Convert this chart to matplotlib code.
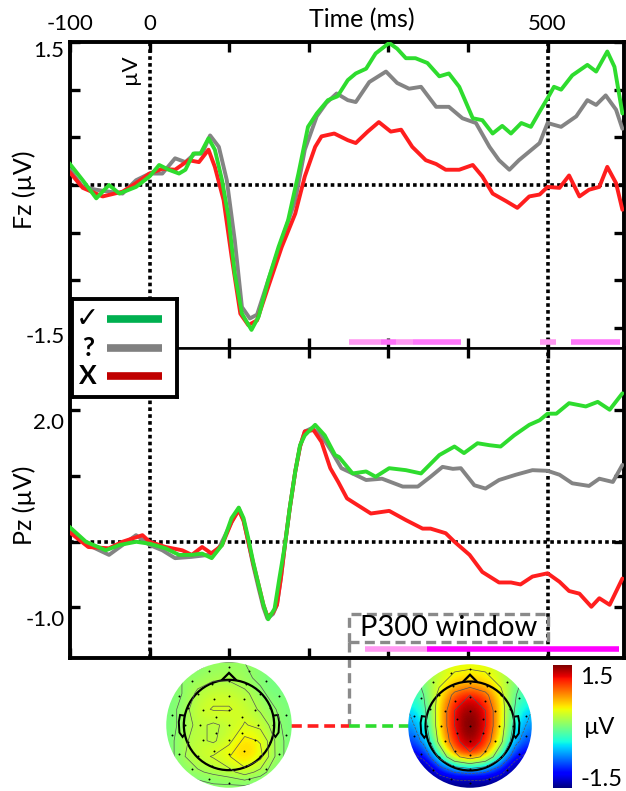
import numpy as np
import matplotlib
matplotlib.use('Agg')
import matplotlib.pyplot as plt
from matplotlib.patches import Circle, Rectangle, Polygon
from matplotlib.transforms import ScaledTranslation, blended_transform_factory

plt.rcParams['font.family'] = ['Lato', 'DejaVu Sans']

# ---- Fz waveforms (ms, µV) ----
fz_t_yes = [-101, -84, -67, -51, -38, -17, 0, 12, 24, 37, 45, 55, 64, 74, 82, 91, 99, 107, 116, 128,
            137, 149, 162, 174, 187, 199, 210, 224, 236, 249, 259, 272, 284, 301, 311, 322, 334, 349,
            364, 376, 389, 406, 418, 431, 443, 454, 467, 479, 490, 500, 508, 517, 531, 550, 561, 575,
            584, 594]
fz_v_yes = [0.23, 0.05, -0.14, 0.0, -0.09, -0.02, 0.09, 0.21, 0.16, 0.12, 0.16, 0.33, 0.33, 0.49, 0.37,
            0.05, -0.33, -0.93, -1.35, -1.52, -1.38, -1.0, -0.65, -0.37, 0.12, 0.61, 0.75, 0.89, 0.93,
            1.10, 1.17, 1.22, 1.38, 1.49, 1.43, 1.33, 1.33, 1.28, 1.14, 1.17, 1.03, 0.70, 0.68, 0.54,
            0.62, 0.54, 0.65, 0.61, 0.77, 0.91, 1.03, 1.0, 1.15, 1.26, 1.19, 1.40, 1.24, 0.75]

fz_t_maybe = [-101, -84, -67, -51, -34, -17, 0, 16, 32, 45, 57, 66, 76, 87, 97, 107, 116, 126, 135, 149,
              166, 183, 195, 210, 222, 235, 249, 259, 276, 297, 311, 326, 341, 360, 376, 393, 410, 427,
              439, 452, 464, 477, 490, 500, 517, 536, 550, 561, 573, 586, 594]
fz_v_maybe = [0.17, -0.02, -0.05, -0.07, -0.09, 0.05, 0.12, 0.12, 0.28, 0.24, 0.33, 0.33, 0.52, 0.40,
              0.05, -0.58, -1.28, -1.40, -1.36, -1.0, -0.58, -0.16, 0.37, 0.72, 0.86, 0.96, 0.89, 0.87,
              1.08, 1.19, 1.07, 1.01, 1.03, 0.82, 0.82, 0.70, 0.65, 0.40, 0.26, 0.16, 0.26, 0.35, 0.44,
              0.65, 0.61, 0.72, 0.89, 0.84, 0.94, 0.79, 0.59]

fz_t_no = [-101, -84, -59, -34, -17, 0, 16, 32, 49, 62, 74, 82, 93, 103, 114, 124, 135, 149, 166, 183,
           195, 208, 216, 232, 249, 259, 274, 288, 303, 316, 330, 347, 360, 372, 389, 406, 418, 431, 448,
           462, 477, 490, 500, 515, 527, 540, 552, 565, 575, 586, 594]
fz_v_no = [0.14, -0.03, -0.12, -0.07, 0.02, 0.12, 0.17, 0.16, 0.26, 0.24, 0.37, 0.19, -0.16, -0.75, -1.35,
           -1.47, -1.42, -1.07, -0.65, -0.30, 0.09, 0.40, 0.51, 0.54, 0.47, 0.44, 0.56, 0.66, 0.56, 0.58,
           0.40, 0.26, 0.22, 0.16, 0.16, 0.21, 0.09, -0.09, -0.17, -0.24, -0.12, -0.10, -0.02, -0.03,
           0.10, -0.12, -0.05, -0.02, 0.19, 0.02, -0.26]

# ---- Pz waveforms (ms, µV) ----
pz_t_yes = [-101, -80, -55, -38, -17, 0, 20, 37, 53, 66, 78, 91, 103, 112, 118, 124, 130, 137, 143, 149,
            157, 163, 170, 176, 183, 189, 195, 208, 220, 233, 238, 255, 272, 284, 301, 322, 341, 364, 383,
            395, 412, 427, 441, 458, 477, 490, 500, 511, 527, 548, 563, 578, 594]
pz_v_yes = [0.23, 0.0, -0.13, -0.05, 0.0, -0.03, -0.10, -0.20, -0.20, -0.18, -0.25, -0.05, 0.36, 0.52,
            0.36, 0.05, -0.30, -0.66, -0.96, -1.18, -1.02, -0.56, -0.05, 0.51, 1.07, 1.47, 1.62, 1.78,
            1.62, 1.32, 1.29, 1.04, 1.07, 0.99, 1.12, 1.09, 1.04, 1.32, 1.45, 1.35, 1.50, 1.47, 1.45,
            1.62, 1.78, 1.85, 1.95, 1.95, 2.11, 2.06, 2.13, 2.01, 2.26]

pz_t_maybe = [-101, -77, -51, -34, -17, 0, 16, 32, 53, 74, 87, 103, 112, 118, 124, 130, 137, 143, 148,
              155, 160, 165, 170, 176, 183, 189, 195, 204, 216, 229, 241, 255, 272, 292, 318, 337, 353,
              368, 381, 391, 408, 422, 439, 460, 481, 500, 515, 531, 552, 565, 582, 594]
pz_v_maybe = [0.20, -0.05, -0.20, -0.05, 0.10, -0.05, -0.13, -0.25, -0.23, -0.20, -0.10, 0.30, 0.51,
              0.33, 0.0, -0.35, -0.71, -1.0, -1.17, -1.10, -0.96, -0.55, -0.05, 0.50, 1.07, 1.45, 1.68,
              1.73, 1.62, 1.37, 1.12, 1.04, 0.94, 0.96, 0.84, 0.84, 0.99, 1.14, 1.11, 1.12, 0.86, 0.81,
              0.94, 1.02, 1.09, 1.08, 1.02, 0.89, 0.85, 0.96, 0.91, 1.17]

pz_t_no = [-101, -77, -51, -34, -9, 0, 20, 41, 53, 66, 78, 91, 103, 112, 118, 124, 130, 137, 143, 148,
           155, 160, 165, 170, 176, 183, 189, 195, 206, 216, 227, 237, 248, 261, 278, 301, 322, 343, 353,
           372, 383, 402, 418, 439, 454, 466, 481, 500, 515, 527, 540, 555, 565, 578, 594]
pz_v_no = [0.15, -0.08, -0.10, 0.0, 0.10, 0.0, -0.08, -0.13, -0.20, -0.08, -0.18, -0.05, 0.30, 0.48, 0.32,
           0.0, -0.32, -0.66, -0.96, -1.14, -1.08, -0.96, -0.55, -0.05, 0.50, 1.07, 1.45, 1.68, 1.70,
           1.52, 1.12, 0.91, 0.66, 0.56, 0.43, 0.47, 0.33, 0.20, 0.20, 0.13, 0.0, -0.20, -0.46, -0.62,
           -0.62, -0.65, -0.53, -0.48, -0.61, -0.75, -0.79, -0.99, -0.86, -0.96, -0.56]

# significance bars (ms)
fz_sig_start = [251, 291, 310, 331, 491, 530]
fz_sig_end = [291, 310, 331, 391, 510, 591]
fz_sig_color = ['#ff99f2', '#ff70f8', '#ff99f2', '#ff78fa', '#ff99f2', '#ff78fa']
pz_sig_start = [270, 349]
pz_sig_end = [349, 590]
pz_sig_color = ['#ff99f2', '#ff00ff']

p300_window = (250, 500)

# topographies (µV), rows from front (top) to back (bottom)
topo_grid = [-1, -0.75, -0.5, -0.25, 0, 0.25, 0.5, 0.75, 1]
topo_no = [
    [0.00, 0.00, 0.05, 0.10, 0.10, 0.10, 0.05, 0.00, 0.00],
    [0.00, 0.10, 0.15, 0.20, 0.20, 0.15, 0.05, -0.05, 0.00],
    [0.00, 0.10, 0.25, 0.30, 0.30, 0.25, 0.15, 0.00, 0.00],
    [0.00, 0.15, 0.30, 0.35, 0.35, 0.30, 0.20, 0.10, 0.00],
    [0.00, 0.15, 0.25, 0.20, 0.25, 0.35, 0.30, 0.15, 0.00],
    [0.00, 0.20, 0.25, 0.20, 0.30, 0.50, 0.45, 0.20, 0.00],
    [0.00, 0.20, 0.30, 0.35, 0.45, 0.60, 0.50, 0.20, 0.00],
    [0.00, 0.10, 0.20, 0.25, 0.30, 0.40, 0.30, 0.10, 0.00],
    [-0.10, 0.00, 0.00, 0.05, 0.05, 0.05, 0.00, -0.05, -0.10],
]
topo_yes = [
    [0.0, 0.1, 0.3, 0.4, 0.4, 0.4, 0.3, 0.1, 0.0],
    [-0.2, 0.1, 0.4, 0.6, 0.7, 0.6, 0.4, 0.1, -0.2],
    [-0.3, 0.0, 0.6, 1.1, 1.3, 1.1, 0.6, 0.0, -0.3],
    [-0.5, -0.1, 0.7, 1.3, 1.5, 1.3, 0.7, -0.1, -0.5],
    [-0.7, -0.2, 0.7, 1.3, 1.6, 1.3, 0.7, -0.2, -0.7],
    [-0.9, -0.4, 0.6, 1.2, 1.5, 1.2, 0.6, -0.4, -0.9],
    [-1.2, -0.9, 0.1, 0.9, 1.2, 0.9, 0.1, -0.9, -1.2],
    [-1.5, -1.4, -0.9, -0.5, -0.4, -0.5, -0.9, -1.4, -1.5],
    [-1.5, -1.5, -1.5, -1.5, -1.5, -1.5, -1.5, -1.5, -1.5],
]
levels_no = [0.1, 0.22, 0.34, 0.46]
levels_yes = [-1.0, -0.5, 0.0, 0.5, 1.0, 1.3]
elec_radius = [0.0, 0.24, 0.47, 0.70, 0.92]
elec_count = [1, 6, 12, 16, 18]

W, H = 626, 791
fig = plt.figure(figsize=(W / 100, H / 100), dpi=100)


def fbox(x0, y0, x1, y1):
    # pixel box -> figure fraction
    return [x0 / W, 1 - y1 / H, (x1 - x0) / W, (y1 - y0) / H]


ax_top = fig.add_axes(fbox(70, 42, 624, 348))
ax_bot = fig.add_axes(fbox(70, 348, 624, 658))

dot = (0, (1, 0.9))
c_yes, c_maybe, c_no = '#2edc2e', '#848484', '#ff1e1e'

for ax, data, ylim in [
    (ax_top, [(fz_t_maybe, fz_v_maybe, c_maybe), (fz_t_no, fz_v_no, c_no), (fz_t_yes, fz_v_yes, c_yes)], (-1.71, 1.5)),
    (ax_bot, [(pz_t_maybe, pz_v_maybe, c_maybe), (pz_t_no, pz_v_no, c_no), (pz_t_yes, pz_v_yes, c_yes)], (-1.77, 2.95)),
]:
    ax.axhline(0, color='k', ls=dot, lw=2.6, zorder=1)
    ax.axvline(0, color='k', ls=dot, lw=2.6, zorder=1)
    ax.axvline(500, color='k', ls=dot, lw=2.6, zorder=1)
    for t, v, c in data:
        ax.plot(t, v, color=c, lw=2.8, solid_joinstyle='round', solid_capstyle='round', zorder=3)
    ax.set_xlim(-100, 596)
    ax.set_ylim(*ylim)
    ax.set_xticks(np.arange(-100, 501, 100))
    for s in ax.spines.values():
        s.set_linewidth(2.8)
    ax.tick_params(direction='in', length=7, width=2.4, labelsize=16, pad=4,
                   top=True, bottom=True, left=True, right=True)

# top panel ticks
ax_top.spines['bottom'].set_linewidth(1.8)
ax_bot.spines['top'].set_linewidth(1.8)
ax_top.tick_params(axis='x', labeltop=True, labelbottom=False, pad=6)
ax_top.set_xticklabels(['-100', '0', '', '', '', '', '500'])
ax_top.set_yticks(np.arange(-1.5, 1.51, 0.5))
ax_top.set_yticklabels(['-1.5', '', '', '', '', '', '1.5'])
ax_bot.tick_params(axis='x', labelbottom=False)
ax_bot.set_yticks([-1, 0, 1, 2])
ax_bot.set_yticklabels(['-1.0', '', '', '2.0'])
for ax, dy in [(ax_top, 7), (ax_bot, 11)]:
    for lab in ax.get_yticklabels():
        lab.set_transform(lab.get_transform() + ScaledTranslation(0, -dy / 100, fig.dpi_scale_trans))

# significance bars
for ax, starts, ends, cols, yv in [(ax_top, fz_sig_start, fz_sig_end, fz_sig_color, -1.645),
                                   (ax_bot, pz_sig_start, pz_sig_end, pz_sig_color, -1.63)]:
    for s, e, c in zip(starts, ends, cols):
        ax.plot([s, e], [yv, yv], color=c, lw=4, solid_capstyle='butt', zorder=2)

ax_top.text(-24, 1.22, 'µV', rotation=90, ha='center', va='center', fontsize=16)
fig.text(362 / W, 1 - 20 / H, 'Time (ms)', ha='center', va='center', fontsize=18)
fig.text(24 / W, 1 - 190 / H, 'Fz (µV)', rotation=90, ha='center', va='center', fontsize=18)
fig.text(24 / W, 1 - 505 / H, 'Pz (µV)', rotation=90, ha='center', va='center', fontsize=18)

# P300 window box and connector
gray_dash = (0, (3, 1.6))
box_lo, box_hi = -1.53, -1.10
ax_bot.add_patch(Rectangle((p300_window[0], box_lo), p300_window[1] - p300_window[0], box_hi - box_lo,
                           fill=False, ec='#8a8a8a', lw=2.4, ls=gray_dash, clip_on=False, zorder=2))
ax_bot.text(np.mean(p300_window) + 1, (box_lo + box_hi) / 2, 'P300 window', ha='center', va='center',
            fontsize=21, zorder=4)
bt = blended_transform_factory(ax_bot.transData, ax_bot.transAxes)
ylo = (box_lo - ax_bot.get_ylim()[0]) / (ax_bot.get_ylim()[1] - ax_bot.get_ylim()[0])
yc = -(726 - 658) / 310
ax_bot.plot([p300_window[0]] * 2, [ylo, yc], transform=bt, color='#8a8a8a', lw=2.4, ls=gray_dash,
            clip_on=False, zorder=2)
ax_bot.plot([178, p300_window[0]], [yc, yc], transform=bt, color=c_no, lw=2.6, ls=(0, (3, 1.6)),
            clip_on=False, zorder=2)
ax_bot.plot([p300_window[0], 339], [yc, yc], transform=bt, color=c_yes, lw=2.6, ls=(0, (3, 1.6)),
            clip_on=False, zorder=20)

# legend box
ax_leg = fig.add_axes(fbox(72, 299, 177, 397), zorder=10)
ax_leg.set_xlim(0, 1)
ax_leg.set_ylim(0, 1)
ax_leg.set_xticks([])
ax_leg.set_yticks([])
for s in ax_leg.spines.values():
    s.set_linewidth(2.8)
leg_sym = ['✓', '?', 'X']
leg_col = ['#00b050', '#808080', '#c00000']
for i, (sym, col) in enumerate(zip(leg_sym, leg_col)):
    yy = 0.80 - i * 0.295
    ax_leg.text(0.15, yy, sym, ha='center', va='center', fontsize=20 if sym == '✓' else 19,
                fontweight='bold', family=['DejaVu Sans'] if sym == '✓' else ['Lato', 'DejaVu Sans'])
    ax_leg.plot([0.335, 0.855], [yy, yy], color=col, lw=5.5, solid_capstyle='butt')


# topographic maps
def draw_topo(box, grid, levels):
    ax = fig.add_axes(fbox(*box))
    ax.set_xlim(-1.02, 1.02)
    ax.set_ylim(-1.02, 1.02)
    ax.set_aspect('equal')
    ax.axis('off')
    clip = Circle((0, 0), 1.0, transform=ax.transData)
    im = ax.imshow(np.array(grid), extent=(-1, 1, -1, 1), origin='upper', cmap='jet',
                   vmin=-1.5, vmax=1.5, interpolation='bicubic')
    im.set_clip_path(clip)
    gx = np.array(topo_grid)
    cs = ax.contour(gx, gx[::-1], np.array(grid), levels=levels, colors='#555555', linewidths=0.5)
    cs.set_clip_path(clip)
    ax.add_patch(Circle((0, 0), 0.72, fill=False, lw=1.6, ec='k'))
    ax.add_patch(Polygon([(-0.12, 0.71), (0, 0.83), (0.12, 0.71)], closed=False, fill=False, lw=1.6))
    for sx in (-1, 1):
        ax.add_patch(Polygon([(sx * 0.71, 0.15), (sx * 0.78, 0.16), (sx * 0.80, 0.05), (sx * 0.79, -0.12),
                              (sx * 0.74, -0.19), (sx * 0.71, -0.15)], closed=False, fill=False, lw=1.4))
    for r, n in zip(elec_radius, elec_count):
        ang = np.linspace(0, 2 * np.pi, n, endpoint=False) + np.pi / 2
        ax.plot(r * np.cos(ang), r * np.sin(ang), 'o', color='k', ms=1.4, mew=0)
    return ax


draw_topo((165, 661, 293, 789), topo_no, levels_no)
draw_topo((407, 663, 533, 789), topo_yes, levels_yes)

ax_cb = fig.add_axes(fbox(553, 665, 572, 788))
ax_cb.imshow(np.linspace(-1.5, 1.5, 256).reshape(-1, 1), origin='lower', cmap='jet', aspect='auto',
             extent=(0, 1, -1.5, 1.5))
ax_cb.axis('off')
fig.text(580 / W, 1 - 677 / H, '1.5', ha='left', va='center', fontsize=17)
fig.text(600 / W, 1 - 727 / H, 'µV', ha='center', va='center', fontsize=17)
fig.text(580 / W, 1 - 779 / H, '-1.5', ha='left', va='center', fontsize=17)

fig.savefig('out.png', dpi=100)
